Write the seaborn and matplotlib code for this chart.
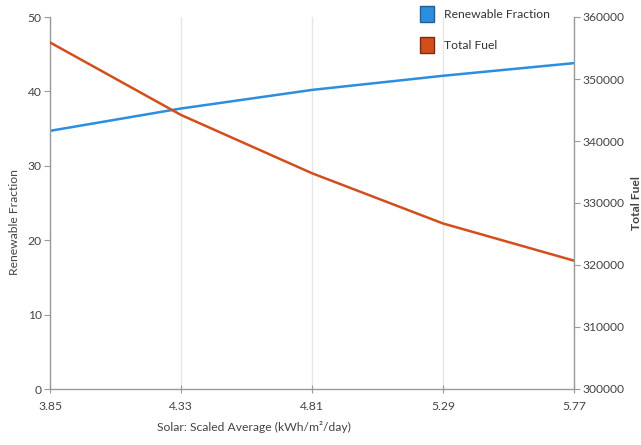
import matplotlib
matplotlib.use("Agg")
import matplotlib.pyplot as plt
import seaborn as sns
import pandas as pd
from matplotlib.patches import Patch

solar = [3.85, 4.33, 4.81, 5.29, 5.77]
renewable_fraction = [34.7, 37.7, 40.2, 42.1, 43.8]
total_fuel = [355900, 344200, 334800, 326700, 320700]
x_ticks = ["3.85", "4.33", "4.81", "5.29", "5.77"]

df = pd.DataFrame({"solar": solar, "rf": renewable_fraction, "fuel": total_fuel})

sns.set_style("white")
plt.rcParams["font.family"] = ["Lato", "DejaVu Sans"]
fs = 8.7

blue = "#2b8ede"
orange = "#d24e1c"
gray = "#9a9a9a"
txt = "#444444"

fig = plt.figure(figsize=(6.41, 4.45), dpi=100)
ax = fig.add_axes([50/641, 1-389/445, 524/641, 372/445])
ax2 = ax.twinx()

sns.lineplot(data=df, x="solar", y="rf", ax=ax, color=blue, linewidth=1.8)
sns.lineplot(data=df, x="solar", y="fuel", ax=ax2, color=orange, linewidth=1.8)

ax.set_xlim(3.85, 5.77)
ax.set_ylim(0, 50)
ax2.set_ylim(300000, 360000)
ax.set_xticks(solar)
ax.set_xticklabels(x_ticks)
ax.set_yticks([0, 10, 20, 30, 40, 50])
ax2.set_yticks([300000, 310000, 320000, 330000, 340000, 350000, 360000])

ax.grid(axis="x", color="#e6e6e6", linewidth=1)
ax.grid(axis="y", visible=False)
ax2.grid(False)
ax.set_axisbelow(True)

for a in (ax, ax2):
    for s in a.spines.values():
        s.set_visible(False)
ax.spines["left"].set_visible(True)
ax.spines["bottom"].set_visible(True)
ax2.spines["right"].set_visible(True)
for s in (ax.spines["left"], ax.spines["bottom"], ax2.spines["right"]):
    s.set_color(gray)
    s.set_linewidth(1)

ax.tick_params(axis="y", left=True, length=4, color=gray, labelsize=fs, labelcolor=txt, pad=2)
ax.tick_params(axis="x", bottom=True, direction="inout", length=6, color=gray, labelsize=fs, labelcolor=txt, pad=6)
ax2.tick_params(axis="y", right=True, length=4, color=gray, labelsize=fs, labelcolor=txt, pad=2)

ax.set_xlabel("Solar: Scaled Average (kWh/m\u00b2/day)", fontsize=fs, color=txt)
ax.xaxis.set_label_coords(0.389, -0.085)
ax.set_ylabel("Renewable Fraction", fontsize=fs, color=txt)
ax.yaxis.set_label_coords(-0.057, 0.45)
ax2.set_ylabel("Total Fuel", fontsize=fs, color=txt, fontweight="bold")
ax2.yaxis.set_label_coords(1.108, 0.5)

handles = [Patch(facecolor=blue, edgecolor="#1d5f96", label="Renewable Fraction"),
           Patch(facecolor=orange, edgecolor="#7a2c0e", label="Total Fuel")]
leg = fig.legend(handles=handles, loc="upper left", bbox_to_anchor=(412/641, 1.005),
                 frameon=False, fontsize=fs, handlelength=1.15, handleheight=1.6,
                 labelspacing=1.3, handletextpad=0.8, borderaxespad=0.3)
for t in leg.get_texts():
    t.set_color("#333333")

fig.savefig("out.png", dpi=100)
